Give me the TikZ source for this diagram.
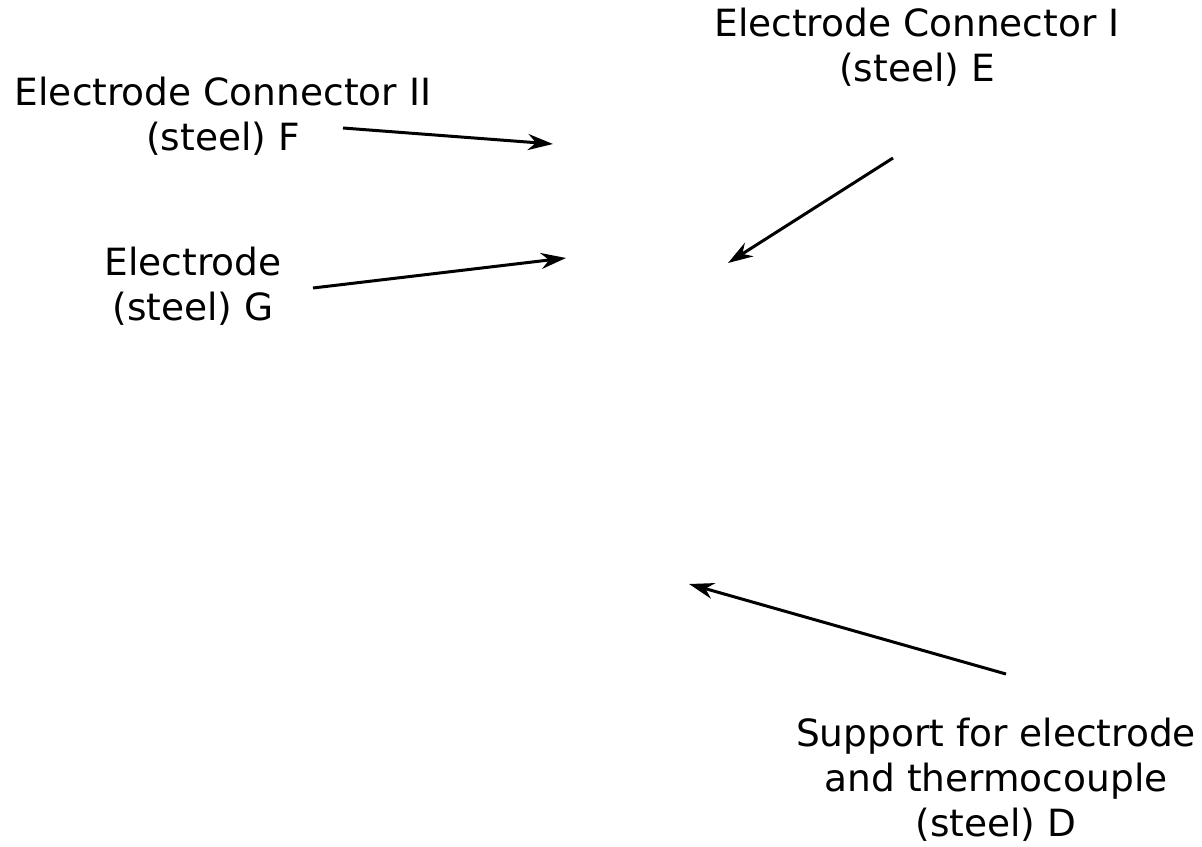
\documentclass[tikz,border=0pt]{standalone}
\usepackage{fontspec}
\setmainfont{DejaVu Sans}
\usetikzlibrary{arrows.meta}
\begin{document}
\begin{tikzpicture}[x=1pt,y=-1pt,
  lbl/.style={align=center,inner sep=0pt,font=\fontsize{37.5}{45}\selectfont},
  ptr/.style={line width=3pt,-{Stealth[length=25pt,width=16pt,inset=8pt]}}]
\useasboundingbox (0,0) rectangle (1202,846);
\node[lbl] (E) at (917,47) {Electrode Connector I\\(steel) E};
\node[lbl] (F) at (223,116) {Electrode Connector II\\(steel) F};
\node[lbl] (G) at (193,286) {Electrode\\(steel) G};
\node[lbl] (D) at (996,780) {Support for electrode\\and thermocouple\\(steel) D};
\coordinate (Es) at (893,158); \coordinate (Et) at (728,263);
\coordinate (Fs) at (343,128); \coordinate (Ft) at (553,144);
\coordinate (Gs) at (313,288); \coordinate (Gt) at (566,258);
\coordinate (Ds) at (1006,674); \coordinate (Dt) at (689,584);
\draw[ptr] (Es) -- (Et);
\draw[ptr] (Fs) -- (Ft);
\draw[ptr] (Gs) -- (Gt);
\draw[ptr] (Ds) -- (Dt);
\end{tikzpicture}
\end{document}
